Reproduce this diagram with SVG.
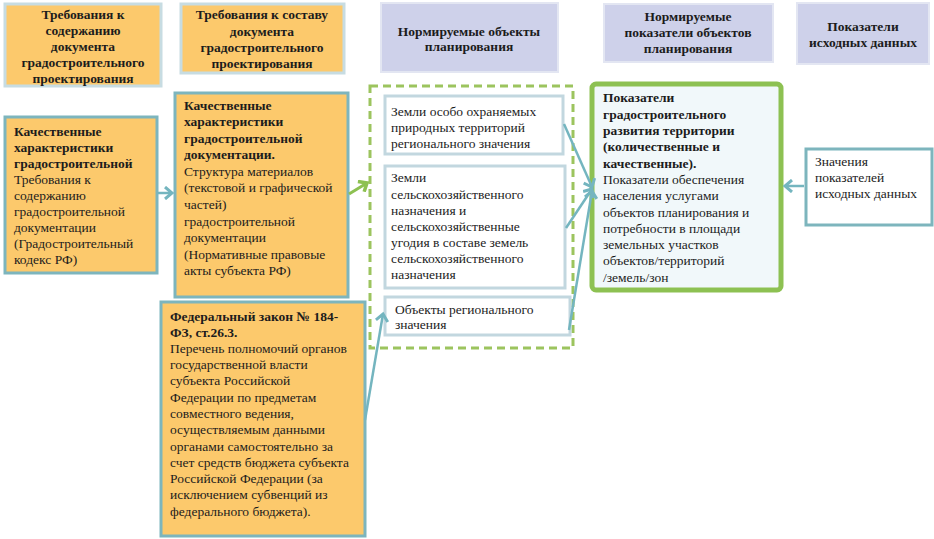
<svg xmlns="http://www.w3.org/2000/svg" width="934" height="539" viewBox="0 0 934 539" font-family="Liberation Serif, DejaVu Serif, serif">
<defs>
<style>
text{font-family:'Liberation Serif','DejaVu Serif',serif;font-size:13.5px;fill:#1c1c1c}
.b{font-weight:bold}
.c{text-anchor:middle}
.hdrO{fill:#FCC96C;stroke:#C7DCE2;stroke-width:3}
.hdrL{fill:#CED1EA;stroke:#E3E6F2;stroke-width:2}
.org{fill:#FCC96C;stroke:#7DB5BD;stroke-width:3}
.inn{fill:#FFFFFF;stroke:#C2D7DF;stroke-width:3}
.tl{fill:none;stroke:#74B5BF;stroke-width:2.5}
.gr{fill:none;stroke:#8DC152;stroke-width:3}
</style>
<marker id="aT" markerUnits="userSpaceOnUse" markerWidth="14" markerHeight="14" refX="9" refY="7" orient="auto">
<path d="M2,1 L9,7 L2,13" fill="none" stroke="#74B5BF" stroke-width="3"/>
</marker>
<marker id="aG" markerUnits="userSpaceOnUse" markerWidth="14" markerHeight="14" refX="9" refY="7" orient="auto">
<path d="M2,1 L9,7 L2,13" fill="none" stroke="#8DC152" stroke-width="3.5"/>
</marker>
</defs>
<rect width="934" height="539" fill="#FFFFFF"/>

<g id="h1">
<rect class="hdrO" x="5" y="4" width="156" height="82"/>
<text class="b c" x="83" y="19">Требования к</text>
<text class="b c" x="83" y="35">содержанию</text>
<text class="b c" x="83" y="51">документа</text>
<text class="b c" x="83" y="67">градостроительного</text>
<text class="b c" x="83" y="83">проектирования</text>
</g>
<g id="h2">
<rect class="hdrO" x="181" y="4" width="163" height="69"/>
<text class="b c" x="262" y="19">Требования к составу</text>
<text class="b c" x="262" y="36">документа</text>
<text class="b c" x="262" y="52">градостроительного</text>
<text class="b c" x="262" y="68">проектирования</text>
</g>
<g id="h3">
<rect class="hdrL" x="381" y="3" width="177" height="69"/>
<text class="b c" x="469" y="36">Нормируемые объекты</text>
<text class="b c" x="469" y="51">планирования</text>
</g>
<g id="h4">
<rect class="hdrL" x="604" y="4" width="169" height="58"/>
<text class="b c" x="688" y="21">Нормируемые</text>
<text class="b c" x="688" y="37">показатели объектов</text>
<text class="b c" x="688" y="53">планирования</text>
</g>
<g id="h5">
<rect class="hdrL" x="797" y="3" width="132" height="61"/>
<text class="b c" x="863" y="31">Показатели</text>
<text class="b c" x="863" y="47">исходных данных</text>
</g>

<g id="nA">
<rect class="org" x="5" y="117" width="152" height="156"/>
<text class="b" x="14" y="136">Качественные</text>
<text class="b" x="14" y="152">характеристики</text>
<text class="b" x="14" y="168">градостроительной</text>
<text x="14" y="184">Требования к</text>
<text x="14" y="200">содержанию</text>
<text x="14" y="216">градостроительной</text>
<text x="14" y="232">документации</text>
<text x="14" y="248">(Градостроительный</text>
<text x="14" y="264">кодекс РФ)</text>
</g>
<g id="nB">
<rect class="org" x="175" y="93" width="173" height="204"/>
<text class="b" x="184" y="110">Качественные</text>
<text class="b" x="184" y="126">характеристики</text>
<text class="b" x="184" y="143">градостроительной</text>
<text class="b" x="184" y="159">документации.</text>
<text x="184" y="176">Структура материалов</text>
<text x="184" y="192">(текстовой и графической</text>
<text x="184" y="209">частей)</text>
<text x="184" y="226">градостроительной</text>
<text x="184" y="242">документации</text>
<text x="184" y="259">(Нормативные правовые</text>
<text x="184" y="275">акты субъекта РФ)</text>
</g>
<g id="nC">
<rect class="org" x="161" y="302" width="204" height="234"/>
<text class="b" x="170" y="321">Федеральный закон № 184-</text>
<text class="b" x="170" y="337">ФЗ, ст.26.3.</text>
<text x="170" y="353">Перечень полномочий органов</text>
<text x="170" y="369">государственной власти</text>
<text x="170" y="385">субъекта Российской</text>
<text x="170" y="402">Федерации по предметам</text>
<text x="170" y="418">совместного ведения,</text>
<text x="170" y="434">осуществляемым данными</text>
<text x="170" y="451">органами самостоятельно за</text>
<text x="170" y="467">счет средств бюджета субъекта</text>
<text x="170" y="483">Российской Федерации (за</text>
<text x="170" y="499">исключением субвенций из</text>
<text x="170" y="516">федерального бюджета).</text>
</g>

<g id="grp">
<rect x="370" y="86" width="203" height="262" fill="none" stroke="#9CC45E" stroke-width="3" stroke-dasharray="8,5"/>
</g>
<g id="o1">
<rect class="inn" x="385" y="96" width="178" height="58"/>
<text x="391" y="116">Земли особо охраняемых</text>
<text x="391" y="132">природных территорий</text>
<text x="391" y="148">регионального значения</text>
</g>
<g id="o2">
<rect class="inn" x="385" y="166" width="180" height="122"/>
<text x="391" y="182">Земли</text>
<text x="391" y="199">сельскохозяйственного</text>
<text x="391" y="215">назначения и</text>
<text x="391" y="231">сельскохозяйственные</text>
<text x="391" y="247">угодия в составе земель</text>
<text x="391" y="263">сельскохозяйственного</text>
<text x="391" y="279">назначения</text>
</g>
<g id="o3">
<rect class="inn" x="385" y="297" width="185" height="38"/>
<text x="395" y="314">Объекты регионального</text>
<text x="395" y="329">значения</text>
</g>

<g id="pk">
<rect x="592" y="84" width="189" height="206" rx="4" fill="#F1F8FA" stroke="#8DC152" stroke-width="5"/>
<text class="b" x="603" y="102">Показатели</text>
<text class="b" x="603" y="119">градостроительного</text>
<text class="b" x="603" y="135">развития территории</text>
<text class="b" x="603" y="151">(количественные и</text>
<text class="b" x="603" y="168">качественные).</text>
<text x="603" y="184">Показатели обеспечения</text>
<text x="603" y="200">населения услугами</text>
<text x="603" y="217">объектов планирования и</text>
<text x="603" y="233">потребности в площади</text>
<text x="603" y="249">земельных участков</text>
<text x="603" y="265">объектов/территорий</text>
<text x="603" y="282">/земель/зон</text>
</g>
<g id="zn">
<rect x="806" y="149" width="126" height="76" fill="#FFFFFF" stroke="#7DB5BD" stroke-width="3"/>
<text x="815" y="166">Значения</text>
<text x="815" y="182">показателей</text>
<text x="815" y="198">исходных данных</text>
</g>

<g id="connectors">
<line class="tl" x1="158" y1="193" x2="172" y2="193" marker-end="url(#aT)"/>
<line class="gr" x1="349" y1="194" x2="367" y2="183" marker-end="url(#aG)"/>
<line class="tl" x1="564" y1="124" x2="592" y2="187" marker-end="url(#aT)"/>
<line class="tl" x1="566" y1="228" x2="592" y2="189" marker-end="url(#aT)"/>
<line class="tl" x1="569" y1="330" x2="592" y2="191" marker-end="url(#aT)"/>
<line class="tl" x1="804" y1="186" x2="785" y2="186" marker-end="url(#aT)"/>
<line class="tl" x1="365" y1="420" x2="383" y2="314" marker-end="url(#aT)"/>
</g>
</svg>
